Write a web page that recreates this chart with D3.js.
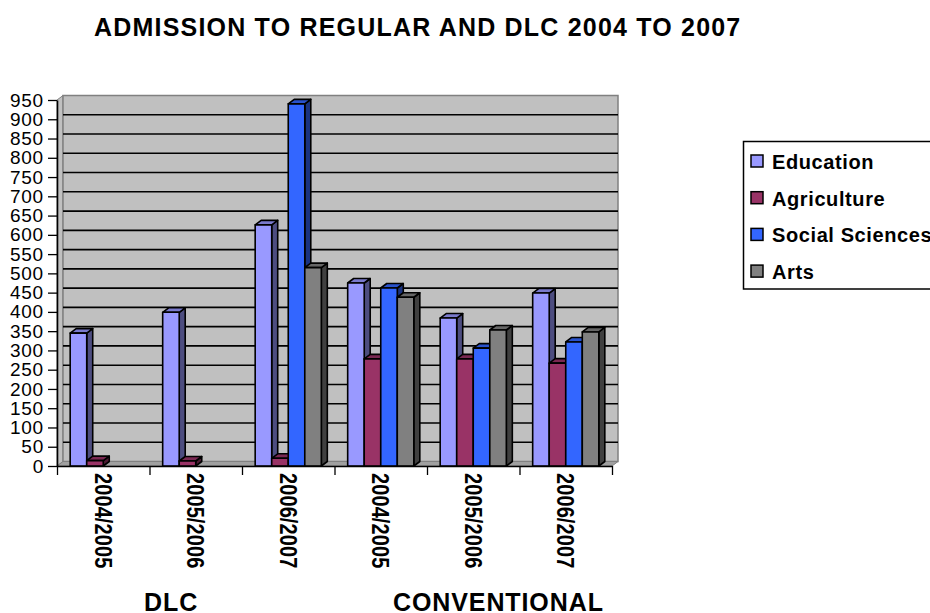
<!DOCTYPE html>
<html>
<head>
<meta charset="utf-8">
<script src="https://cdn.jsdelivr.net/npm/d3@7"></script>
<style>
  html, body { margin: 0; padding: 0; background: #fff; overflow: hidden; }
  text { font-family: "Liberation Sans", Arial, sans-serif; fill: #000; }
</style>
</head>
<body>
<div id="chart"></div>
<script>
var years = ['2004/2005', '2005/2006', '2006/2007', '2004/2005', '2005/2006', '2006/2007'];
var seriesNames = ['Education', 'Agriculture', 'Social Sciences', 'Arts'];
var education = [345, 399, 626, 475, 384, 449];
var agriculture = [14, 13, 20, 278, 278, 267];
var socialSciences = [0, 0, 940, 462, 306, 322];
var arts = [0, 0, 515, 438, 353, 348];
var yTicks = d3.range(0, 951, 50);
var groupLabels = ['DLC', 'CONVENTIONAL'];

var allSeries = [education, agriculture, socialSciences, arts];
var fronts = ['#9999ff', '#993366', '#3366ff', '#808080'];
var tops = ['#7a7acc', '#7a2952', '#2952cc', '#666666'];
var sides = ['#4d4d80', '#4d1a33', '#1a3380', '#404040'];

var left = 57, right = 612, bottom = 466, topY = 100;
var dx = 6, dy = -4.5;

var svg = d3.select('#chart').append('svg')
  .attr('width', 930)
  .attr('height', 613);

var y = d3.scaleLinear().domain([0, 950]).range([bottom, topY]);
var xTick = d3.scaleLinear().domain([0, years.length]).range([left, right]);
var x = d3.scaleBand().domain(d3.range(years.length)).range([left, right])
  .paddingInner(0.285).paddingOuter(0.1425);
var xInner = d3.scaleBand().domain(d3.range(seriesNames.length)).range([0, x.bandwidth()]);

// title
svg.append('text')
  .attr('x', 94).attr('y', 36)
  .style('font-size', '25px').style('font-weight', 'bold')
  .style('letter-spacing', '1.2px')
  .text('ADMISSION TO REGULAR AND DLC 2004 TO 2007');

// walls and floor
svg.append('path')
  .attr('d', 'M' + left + ',' + bottom + 'L' + left + ',' + topY + 'L' + (left + dx) + ',' + (topY + dy) +
    'L' + (left + dx) + ',' + (bottom + dy) + 'Z')
  .attr('fill', '#c0c0c0').attr('stroke', '#808080');
svg.append('rect')
  .attr('x', left + dx).attr('y', topY + dy)
  .attr('width', right - left).attr('height', bottom - topY)
  .attr('fill', '#c0c0c0').attr('stroke', '#808080').attr('stroke-width', 1.5);
svg.append('path')
  .attr('d', 'M' + left + ',' + bottom + 'L' + right + ',' + bottom + 'L' + (right + dx) + ',' + (bottom + dy) +
    'L' + (left + dx) + ',' + (bottom + dy) + 'Z')
  .attr('fill', '#a0a0a0').attr('stroke', '#808080');

// gridlines on the back wall
svg.append('g').selectAll('line')
  .data(yTicks.slice(1, -1))
  .join('line')
  .attr('x1', left + dx).attr('x2', right + dx)
  .attr('y1', function(d) { return y(d) + dy; })
  .attr('y2', function(d) { return y(d) + dy; })
  .attr('stroke', '#000').attr('stroke-width', 1.6);

// bars, series by series inside each group
years.forEach(function(year, i) {
  allSeries.forEach(function(values, s) {
    var v = values[i];
    if (!v) return;
    var x0 = x(i) + xInner(s), w = xInner.bandwidth(), y0 = y(v);
    var g = svg.append('g').attr('stroke', '#000').attr('stroke-width', 1.6).attr('stroke-linejoin', 'round');
    g.append('path')
      .attr('d', 'M' + (x0 + w) + ',' + y0 + 'l' + dx + ',' + dy + 'L' + (x0 + w + dx) + ',' + (bottom + dy) +
        'L' + (x0 + w) + ',' + bottom + 'Z')
      .attr('fill', sides[s]);
    g.append('path')
      .attr('d', 'M' + x0 + ',' + y0 + 'l' + dx + ',' + dy + 'l' + w + ',0l' + (-dx) + ',' + (-dy) + 'Z')
      .attr('fill', tops[s]);
    g.append('rect')
      .attr('x', x0).attr('y', y0)
      .attr('width', w).attr('height', bottom - y0)
      .attr('fill', fronts[s]);
  });
});

// axes
var yAxis = svg.append('g')
  .attr('transform', 'translate(' + left + ',0)')
  .call(d3.axisLeft(y).tickValues(yTicks).tickSize(9).tickPadding(4).tickSizeOuter(0));
yAxis.selectAll('text').style('font-size', '19px').style('letter-spacing', '0.8px');
yAxis.selectAll('line').attr('stroke', '#000').attr('stroke-width', 1.3);
yAxis.select('.domain').attr('stroke', '#000').attr('stroke-width', 1.6);

var xAxis = svg.append('g')
  .attr('transform', 'translate(0,' + bottom + ')')
  .call(d3.axisBottom(xTick).tickValues(d3.range(years.length + 1)).tickFormat('').tickSize(9).tickSizeOuter(0));
xAxis.selectAll('line').attr('stroke', '#000').attr('stroke-width', 1.3);
xAxis.select('.domain').attr('stroke', '#000').attr('stroke-width', 1.6);

// rotated year labels, stretched across the text like the original
svg.append('g').selectAll('text')
  .data(years)
  .join('text')
  .attr('transform', function(d, i) {
    return 'translate(' + (xTick(i + 0.5) - 8.5) + ',473) rotate(90) scale(1,1.2)';
  })
  .style('font-size', '20px').style('font-weight', 'bold')
  .style('letter-spacing', '0.1px')
  .text(function(d) { return d; });

// group captions
svg.append('g').selectAll('text')
  .data(groupLabels)
  .join('text')
  .attr('x', function(d, i) { return i === 0 ? 144 : 393; })
  .attr('y', 611)
  .style('font-size', '25px').style('font-weight', 'bold')
  .style('letter-spacing', '0.9px')
  .text(function(d) { return d; });

// legend
svg.append('rect')
  .attr('x', 743.5).attr('y', 141.5)
  .attr('width', 200).attr('height', 147.5)
  .attr('fill', '#fff').attr('stroke', '#000').attr('stroke-width', 1.5);

var legend = svg.append('g').selectAll('g')
  .data(seriesNames)
  .join('g')
  .attr('transform', function(d, i) { return 'translate(751,' + (161 + i * 36.7) + ')'; });
legend.append('rect')
  .attr('x', 0).attr('y', -6)
  .attr('width', 12).attr('height', 12)
  .attr('fill', function(d, i) { return fronts[i]; })
  .attr('stroke', '#000').attr('stroke-width', 1.5);
legend.append('text')
  .attr('x', 21).attr('y', 8)
  .style('font-size', '20px').style('font-weight', 'bold')
  .style('letter-spacing', '0.6px')
  .text(function(d) { return d; });
</script>
</body>
</html>
